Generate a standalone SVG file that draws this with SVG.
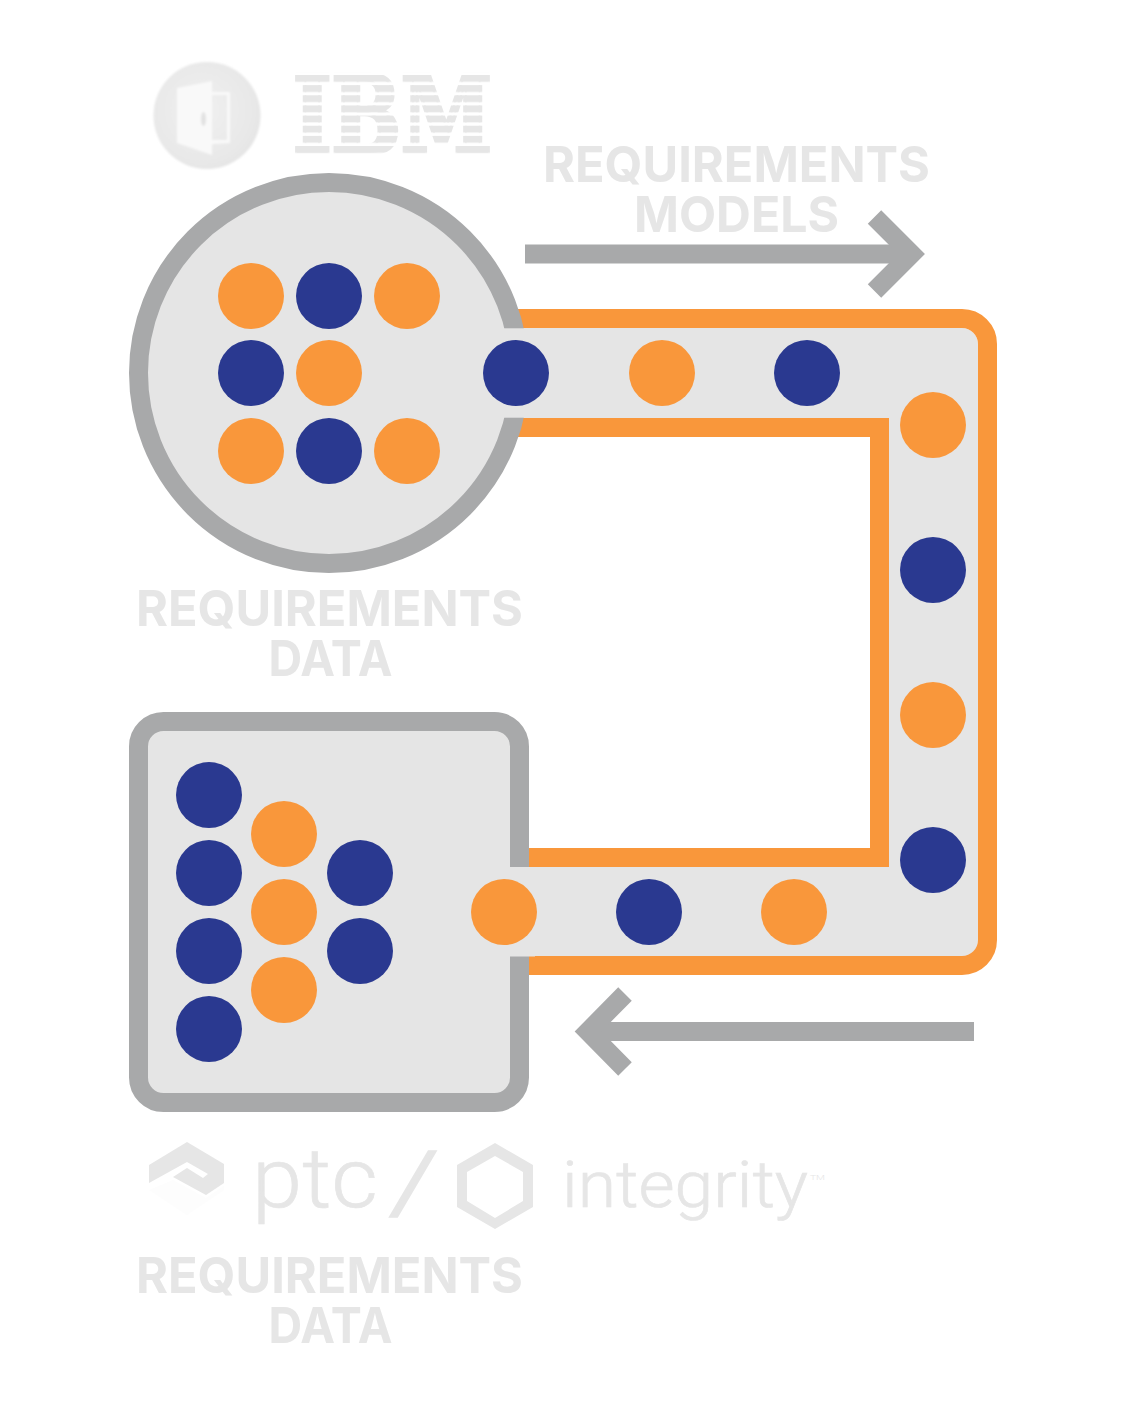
<svg xmlns="http://www.w3.org/2000/svg" width="1140" height="1419" viewBox="0 0 1140 1419">
<style>
.o{fill:#f9973b}
.b{fill:#2a3990}
.lab{font-family:Inter,"Liberation Sans",sans-serif;font-weight:700;font-size:50px;fill:#e6e6e6;text-anchor:middle}
.pipe{fill:none;stroke:#f9973b;stroke-width:19}
.arr{fill:none;stroke:#a8a9aa;stroke-width:19}
.lt{font-family:Roboto,"Liberation Sans",sans-serif;font-weight:300;fill:#e6e6e6;stroke:#e6e6e6;stroke-width:.7}
</style>
<defs>
<pattern id="stripes" patternUnits="userSpaceOnUse" x="0" y="75" width="200" height="10.15">
<rect width="200" height="6.8" fill="#e6e6e6"/>
</pattern>
<radialGradient id="disc" cx="0.45" cy="0.45" r="0.65"><stop offset="0" stop-color="#f0f0f0"/><stop offset="0.75" stop-color="#e8e8e8"/><stop offset="1" stop-color="#e2e2e2"/></radialGradient>
<filter id="soft" x="-10%" y="-10%" width="120%" height="120%"><feGaussianBlur stdDeviation="0.8"/></filter>
</defs>
<rect width="1140" height="1419" fill="#fff"/>
<g id="connectors">
<g id="pipeline">
<path d="M510 328H962A16 16 0 0 1 978 344V941A16 16 0 0 1 962 957H505V867H889V418H505Z" fill="#e5e5e5"/>
<path class="pipe" d="M510 318.500H962A25.500 25.500 0 0 1 987.500 344V940A25.500 25.500 0 0 1 962 965.500H520"/>
<path class="pipe" d="M510 427.500H879.500V857.500H520"/>
</g>
<g id="arrow-models">
<path class="arr" d="M525 254H910"/>
<path class="arr" d="M874.500 217L911.500 254L874.500 291"/>
</g>
<g id="arrow-data">
<path class="arr" d="M974 1031.500H590"/>
<path class="arr" d="M625 994L588 1031.500L625 1069"/>
</g>
</g>
<g id="node-circle">
<circle cx="329" cy="373" r="190.500" fill="#e5e5e5" stroke="#a8a9aa" stroke-width="19"/>
<rect x="495" y="328.300" width="40" height="89.400" fill="#e5e5e5"/>
<circle class="o" cx="251" cy="296" r="33"/><circle class="b" cx="329" cy="296" r="33"/><circle class="o" cx="407" cy="296" r="33"/>
<circle class="b" cx="251" cy="373" r="33"/><circle class="o" cx="329" cy="373" r="33"/>
<circle class="o" cx="251" cy="451" r="33"/><circle class="b" cx="329" cy="451" r="33"/><circle class="o" cx="407" cy="451" r="33"/>
</g>
<g id="node-box">
<rect x="138.500" y="721.500" width="381" height="381" rx="25" fill="#e5e5e5" stroke="#a8a9aa" stroke-width="19"/>
<rect x="505" y="867" width="30" height="89.500" fill="#e5e5e5"/>
<circle class="b" cx="209" cy="795" r="33"/><circle class="b" cx="209" cy="873" r="33"/><circle class="b" cx="209" cy="951" r="33"/><circle class="b" cx="209" cy="1029" r="33"/>
<circle class="o" cx="284" cy="834" r="33"/><circle class="o" cx="284" cy="912" r="33"/><circle class="o" cx="284" cy="990" r="33"/>
<circle class="b" cx="360" cy="873" r="33"/><circle class="b" cx="360" cy="951" r="33"/>
</g>
<g id="pipe-dots">
<circle class="b" cx="516" cy="373" r="33"/><circle class="o" cx="662" cy="373" r="33"/><circle class="b" cx="807" cy="373" r="33"/>
<circle class="o" cx="933" cy="425" r="33"/><circle class="b" cx="933" cy="570" r="33"/><circle class="o" cx="933" cy="715" r="33"/><circle class="b" cx="933" cy="860" r="33"/>
<circle class="o" cx="794" cy="912" r="33"/><circle class="b" cx="649" cy="912" r="33"/><circle class="o" cx="504" cy="912" r="33"/>
</g>
<g id="label-models">
<text class="lab" x="736.500" y="182" textLength="387" lengthAdjust="spacingAndGlyphs">REQUIREMENTS</text>
<text class="lab" x="736.500" y="232" textLength="205" lengthAdjust="spacingAndGlyphs">MODELS</text>
</g>
<g id="label-data-1">
<text class="lab" x="329.500" y="626" textLength="387" lengthAdjust="spacingAndGlyphs">REQUIREMENTS</text>
<text class="lab" x="330.500" y="676" textLength="124" lengthAdjust="spacingAndGlyphs">DATA</text>
</g>
<g id="label-data-2">
<text class="lab" x="329.500" y="1293" textLength="387" lengthAdjust="spacingAndGlyphs">REQUIREMENTS</text>
<text class="lab" x="330.500" y="1343" textLength="124" lengthAdjust="spacingAndGlyphs">DATA</text>
</g>
<g id="logo-door" filter="url(#soft)">
<circle cx="207" cy="115.500" r="53.500" fill="url(#disc)"/>
<path d="M212 92H230V143L212 144V140H227V95H212Z" fill="#f9f9f9"/>
<path d="M177 88L212 81V155L177 143Z" fill="#f9f9f9"/>
<ellipse cx="203.500" cy="119" rx="2.500" ry="7" fill="#e2e2e2"/>
</g>
<g id="logo-ibm">
<text x="392.500" y="153" text-anchor="middle" font-family="'DejaVu Serif',serif" font-weight="700" font-size="106" textLength="199" lengthAdjust="spacingAndGlyphs" fill="url(#stripes)" stroke="url(#stripes)" stroke-width="4.500">IBM</text>
</g>
<g id="logo-ptc">
<path d="M149 1190L187 1215L224 1190V1186L206 1198L173 1180L149 1190Z" fill="#fdfdfd"/>
<path d="M187 1142L224 1164V1183L206 1195L173 1177L187 1168L203 1178L208 1174L187 1162L149 1183V1165Z" fill="#e6e6e6"/>
<text class="lt" x="252" y="1207" font-size="84" textLength="126" lengthAdjust="spacingAndGlyphs">ptc</text>
<text class="lt" x="388" y="1212" font-size="86" textLength="52" lengthAdjust="spacingAndGlyphs" style="stroke-width:1.500">/</text>
</g>
<g id="logo-hex">
<path fill-rule="evenodd" d="M495 1143L533 1165V1207L495 1229L457 1207V1165ZM495 1156L467 1172V1201L495 1218L523 1201V1172Z" fill="#e6e6e6"/>
</g>
<g id="logo-integrity">
<text class="lt" x="562" y="1207" font-size="65" textLength="246" lengthAdjust="spacingAndGlyphs">integrity</text>
<text x="810" y="1180" font-family="Roboto,sans-serif" font-weight="300" fill="#e6e6e6" font-size="8" textLength="15" lengthAdjust="spacingAndGlyphs">TM</text>
</g>
</svg>
